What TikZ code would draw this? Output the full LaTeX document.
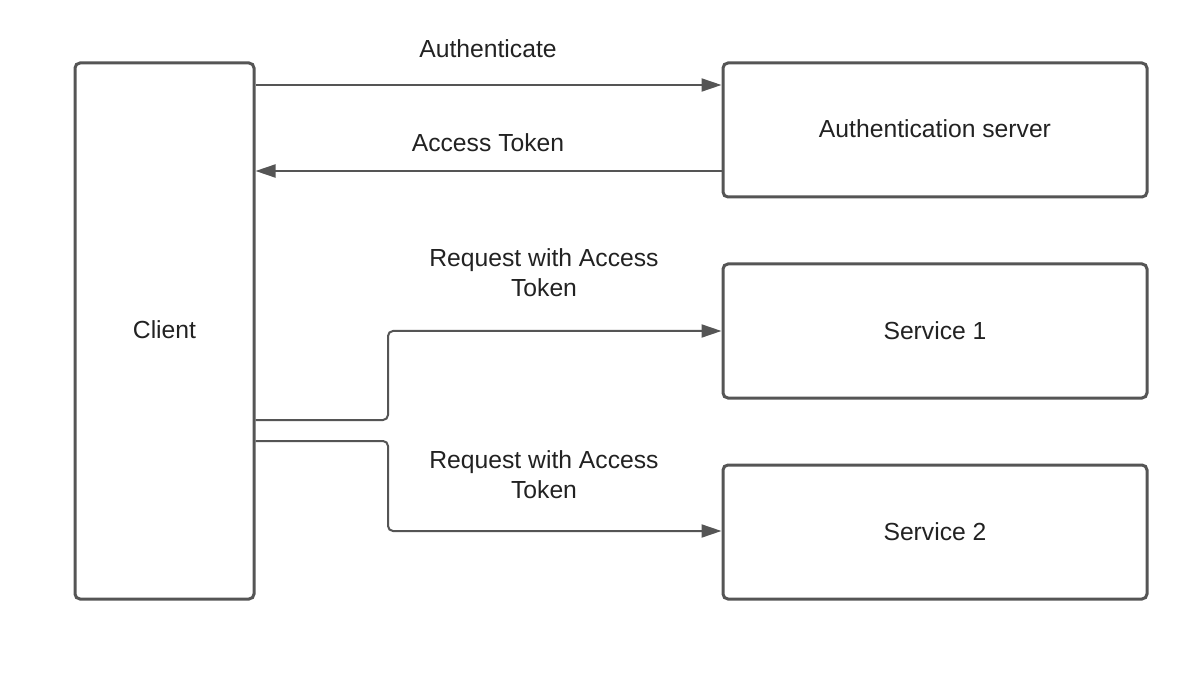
\documentclass[tikz,border=0pt]{standalone}
\usepackage{fontspec}
\setmainfont{Liberation Sans}
\usetikzlibrary{arrows.meta}
\definecolor{linec}{HTML}{555555}
\definecolor{textc}{HTML}{222222}
\tikzset{
  box/.style={draw=linec, line width=3pt, rounded corners=5pt, fill=white, inner sep=0pt, text=textc, font=\fontsize{24.7}{29}\selectfont},
  conn/.style={draw=linec, line width=2pt, -{Triangle[length=20pt,width=13pt]}, rounded corners=5pt},
  lbl/.style={text=textc, font=\fontsize{24.7}{30}\selectfont, align=center, inner sep=0pt}
}
\begin{document}
\begin{tikzpicture}[x=1pt,y=-1pt]
\useasboundingbox[fill=white] (0,0) rectangle (1200,676);
\node[box, minimum width=179pt, minimum height=536pt] (client) at (164.5,331) {\raisebox{3pt}{Client}};
\node[box, minimum width=424pt, minimum height=134pt] (auth) at (935,130) {\raisebox{2pt}{Authentication server}};
\node[box, minimum width=424pt, minimum height=134pt] (s1) at (935,331) {Service 1};
\node[box, minimum width=424pt, minimum height=134pt] (s2) at (935,532) {Service 2};
\coordinate (c1) at (client.east |- 0,85);
\coordinate (c2) at (client.east |- 0,171);
\coordinate (c3) at (client.east |- 0,420);
\coordinate (c4) at (client.east |- 0,441);
\coordinate (a1) at (auth.west |- 0,85);
\coordinate (a2) at (auth.west |- 0,171);
\draw[conn] (c1) -- (a1);
\draw[conn] (a2) -- (c2);
\draw[conn] (c3) -| (388,331) -- (s1.west);
\draw[conn] (c4) -| (388,531) -- (s2.west |- 0,531);
\node[lbl] (l1) at (488,49) {Authenticate};
\node[lbl] (l2) at (488,143) {Access Token};
\node[lbl] (l3) at (544,273) {Request with Access\\Token};
\node[lbl] (l4) at (544,475) {Request with Access\\Token};
\end{tikzpicture}
\end{document}
